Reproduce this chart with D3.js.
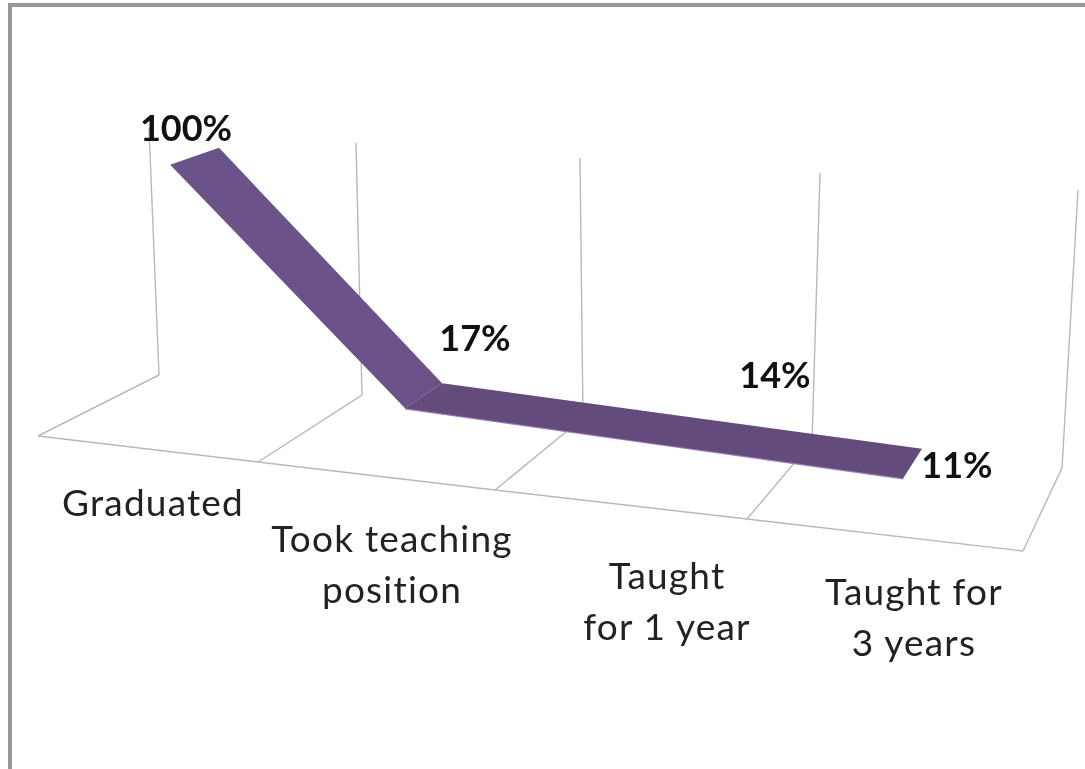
<!DOCTYPE html>
<html>
<head>
<meta charset="utf-8">
<script src="https://cdn.jsdelivr.net/npm/d3@7/dist/d3.min.js"></script>
<style>
  html, body { margin: 0; padding: 0; background: #fff; }
  svg { display: block; filter: blur(0.5px); }
  text { font-family: Lato, "Open Sans", sans-serif; fill: #1a1a1a; }
  .cat { font-size: 37px; letter-spacing: 1.2px; fill: #222; }
  .val { font-size: 36px; font-weight: 700; fill: #111; }
</style>
</head>
<body>
<svg id="chart" width="1085" height="769"></svg>
<script>
const categories = ["Graduated", "Took teaching position", "Taught for 1 year", "Taught for 3 years"];
const categoryLines = [["Graduated"], ["Took teaching", "position"], ["Taught", "for 1 year"], ["Taught for", "3 years"]];
const values = [1.00, 0.17, 0.14, 0.11];
const valueLabels = ["100%", "17%", "14%", "11%"];

const svg = d3.select("#chart");

// the floor is skewed, so x and y along each floor edge get their own scale
const slots = [0, 1, 2, 3, 4];
const frontX = d3.scaleLinear().domain(slots).range([38, 258, 495, 747, 1023]);
const frontY = d3.scaleLinear().domain(slots).range([436, 462, 490, 519, 551]);
const backX = d3.scaleLinear().domain(slots).range([159, 362, 583, 812, 1062]);
const backY = d3.scaleLinear().domain(slots).range([375, 395, 418, 442, 468]);
const topX = d3.scaleLinear().domain(slots).range([149, 356, 580, 820, 1078]);
const topY = d3.scaleLinear().domain(slots).range([128, 143, 158, 173, 190]);

// near edge of the ribbon stands a bit taller and leans more than the far edge
const depth = d3.scaleLinear().domain([0, 1]).range([0.31, 0.69]);
const rise = d3.scaleLinear().domain([0, 1]).range([1.06, 1.03]);
const lean = d3.scaleLinear().domain([0, 1]).range([1.5, 0.8]);

const labelX = d3.scaleOrdinal().domain(categories).range([153, 392, 667, 914]);
const labelY = d3.scaleOrdinal().domain(categories).range([516, 552, 589, 605]);
const valueX = d3.scaleOrdinal().domain(categories).range([186, 475, 775, 957]);
const valueY = d3.scaleOrdinal().domain(categories).range([141, 351, 388, 478]);

function project(slot, d, value) {
  let t = depth(d);
  let baseX = frontX(slot) + (backX(slot) - frontX(slot)) * t;
  let baseY = frontY(slot) + (backY(slot) - frontY(slot)) * t;
  let h = value * rise(d);
  return [
    baseX + (topX(slot) - backX(slot)) * h * lean(d),
    baseY + (topY(slot) - backY(slot)) * h
  ];
}

// picture frame, only top and left are visible
svg.append("rect").attr("x", 8).attr("y", 3).attr("width", 1077).attr("height", 4).attr("fill", "#979797");
svg.append("rect").attr("x", 8).attr("y", 3).attr("width", 4).attr("height", 766).attr("fill", "#979797");

// floor and walls
const grid = svg.append("g")
    .attr("fill", "none")
    .attr("stroke", "#b8b8b8")
    .attr("stroke-width", 1.4);

grid.append("path")
    .attr("d", d3.line()(slots.map(s => [frontX(s), frontY(s)])));

grid.selectAll(".wall")
  .data(slots)
  .enter().append("path")
    .attr("class", "wall")
    .attr("d", s => d3.line()([
      [frontX(s), frontY(s)],
      [backX(s), backY(s)],
      [topX(s), topY(s)]
    ]));

// ribbon: the drop is one face, everything after the fold is another
const points = values.map((v, i) => ({value: v, slot: i + 0.5}));
const faces = [
  {pts: points.slice(0, 2), fill: "#6b5289"},
  {pts: points.slice(1), fill: "#634c7c"}
];
const line = d3.line();

svg.append("path")
    .attr("fill", "none")
    .attr("stroke", "#9a7cc4")
    .attr("stroke-width", 2.4)
    .attr("d", line(faces[1].pts.map(p => project(p.slot, 0, p.value))));

svg.selectAll(".ribbon")
  .data(faces)
  .enter().append("path")
    .attr("class", "ribbon")
    .attr("fill", f => f.fill)
    .attr("d", f => line(
      f.pts.map(p => project(p.slot, 0, p.value))
        .concat(f.pts.slice().reverse().map(p => project(p.slot, 1, p.value)))
    ) + "Z");

// value labels
svg.selectAll(".val")
  .data(values)
  .enter().append("text")
    .attr("class", "val")
    .attr("text-anchor", "middle")
    .attr("x", (v, i) => valueX(categories[i]))
    .attr("y", (v, i) => valueY(categories[i]))
    .text((v, i) => valueLabels[i]);

// category labels
const cats = svg.selectAll(".cat")
  .data(categories)
  .enter().append("text")
    .attr("class", "cat")
    .attr("text-anchor", "middle")
    .attr("y", c => labelY(c));

cats.selectAll("tspan")
  .data((c, i) => categoryLines[i].map(t => ({text: t, cat: c})))
  .enter().append("tspan")
    .attr("x", d => labelX(d.cat))
    .attr("dy", (d, i) => i === 0 ? 0 : 51)
    .text(d => d.text);
</script>
</body>
</html>
